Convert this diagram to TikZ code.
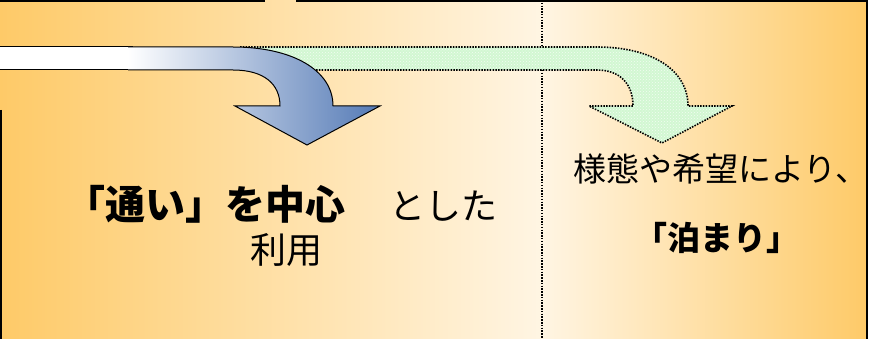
\documentclass[tikz,border=0pt]{standalone}
\usepackage{fontspec}
\usetikzlibrary{patterns}
\newfontfamily\jpfont{Noto Sans CJK JP}
\definecolor{warm}{RGB}{254,202,104}
\definecolor{cream}{RGB}{255,245,227}
\definecolor{arrowblue}{RGB}{84,122,182}
\definecolor{paleleaf}{RGB}{210,247,210}
\begin{document}
\begin{tikzpicture}[x=1pt, y=-1pt,
    edge/.style={black, line width=1.2pt},
    guide/.style={black, line width=1.6pt, dash pattern=on 1.5pt off 1.3pt},
    every node/.style={inner sep=0pt, font=\jpfont}]
    \useasboundingbox (0,0) rectangle (875,339);
    % background panels
    \shade[left color=warm, right color=cream] (0,0) rectangle (542,339);
    \shade[left color=cream, right color=warm] (542,0) rectangle (867,339);
    \draw[edge] (0,1) -- (265,1);
    \draw[edge] (296,1) -- (867,1);
    \draw[edge] (867,0) -- (867,339);
    \draw[edge] (1,110) -- (1,339);
    \draw[guide] (542,0) -- (542,339);
    % dotted arrow
    \fill[paleleaf] (240,47) -- (597,47) .. controls (652,47) and (688,70) .. (688,106)
        -- (732,106) -- (662,143) -- (589,106) -- (633,106)
        .. controls (633,84) and (620,70) .. (597,70) -- (240,70) -- cycle;
    \fill[pattern=crosshatch dots, pattern color=white!70!paleleaf] (240,47) -- (597,47) .. controls (652,47) and (688,70) .. (688,106)
        -- (732,106) -- (662,143) -- (589,106) -- (633,106)
        .. controls (633,84) and (620,70) .. (597,70) -- (240,70) -- cycle;
    \draw[guide] (240,47) -- (597,47) .. controls (652,47) and (688,70) .. (688,106)
        -- (732,106) -- (662,143) -- (589,106) -- (633,106)
        .. controls (633,84) and (620,70) .. (597,70) -- (240,70);
    % solid arrow
    \filldraw[fill=white, draw=black, line width=1pt] (-2,47) -- (132,47) -- (132,70) -- (-2,70);
    \draw[line width=1pt, left color=white, right color=arrowblue]
        (128,47) -- (233,47) .. controls (292,47) and (333,70) .. (333,106)
        -- (380,106) -- (307,145) -- (235,106) -- (280,106)
        .. controls (280,84) and (264,70) .. (233,70) -- (128,70);
    % texts
    \node (kayoi) at (205,204) {\fontsize{40}{40}\selectfont\bfseries 「通い」を中心};
    \node (toshita) at (443,206) {\fontsize{36}{36}\selectfont とした};
    \node (riyou) at (286,250) {\fontsize{36}{36}\selectfont 利用};
    \node (youtai) at (721,169) {\fontsize{33}{33}\selectfont 様態や希望により、};
    \node (tomari) at (717,238) {\fontsize{33}{33}\selectfont\bfseries 「泊まり」};
\end{tikzpicture}
\end{document}
